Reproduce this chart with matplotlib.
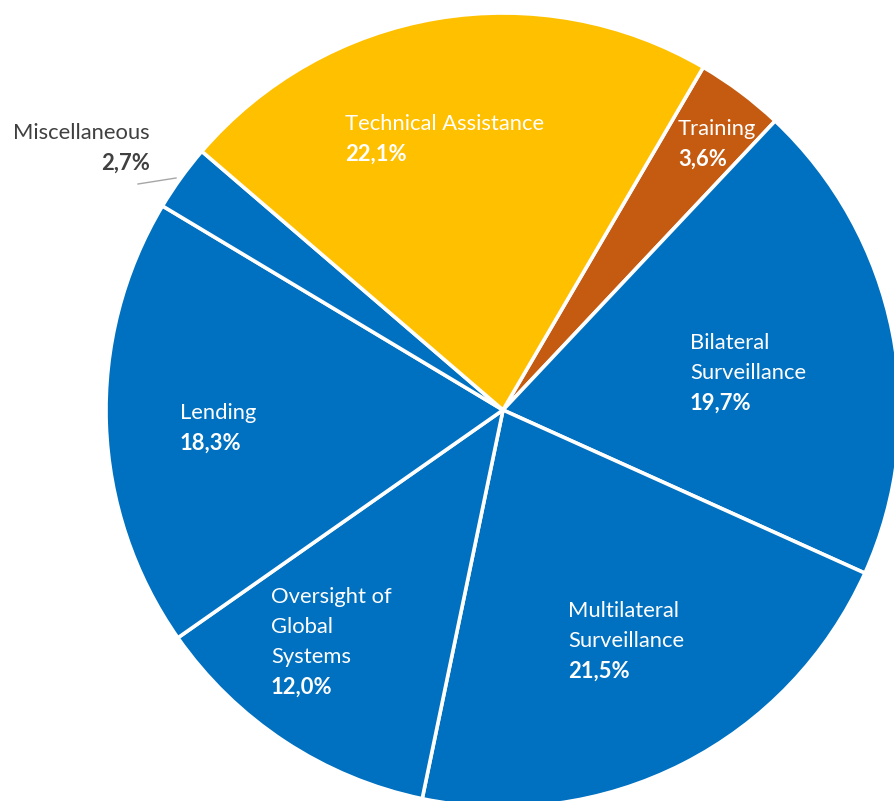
import matplotlib.pyplot as plt

# Share of spending by output area (%)
categories = ['Training', 'Bilateral\nSurveillance', 'Multilateral\nSurveillance',
              'Oversight of\nGlobal\nSystems', 'Lending', 'Miscellaneous',
              'Technical Assistance']
shares = [3.6, 19.7, 21.5, 12.0, 18.3, 2.7, 22.1]

colors = ['#C55A11', '#0070C0', '#0070C0', '#0070C0', '#0070C0', '#0070C0', '#FFC000']

# label anchor (left edge, top of first line) in pixel coords, origin top-left
label_pos = [(678, 119), (690, 333), (568, 601), (271, 587), (180, 403), (150, 123), (345, 114)]

W, H = 895, 801
fig = plt.figure(figsize=(W / 100, H / 100), dpi=100)
ax = fig.add_axes([0, 0, 1, 1])

cx, cy, r = 503, H - 410, 397
ax.pie(shares, colors=colors, startangle=59.7, counterclock=False,
       center=(cx, cy), radius=r,
       wedgeprops=dict(edgecolor='white', linewidth=2.6))

font = 'Lato'
fs = 15.8
line_h = 30

def pct(v):
    return f'{v:.1f}%'.replace('.', ',')

for name, val, (x, y) in zip(categories, shares, label_pos):
    lines = name.split('\n')
    outside = name == 'Miscellaneous'
    col = '#404040' if outside else 'white'
    ha = 'right' if outside else 'left'
    for i, ln in enumerate(lines):
        ax.text(x, H - (y + i * line_h), ln, color=col, fontsize=fs, family=font,
                ha=ha, va='top')
    ax.text(x, H - (y + len(lines) * line_h), pct(val), color=col, fontsize=fs,
            family=font, fontweight='bold', ha=ha, va='top')

# leader line for the small slice
ax.plot([138, 176], [H - 184, H - 178], color='#A6A6A6', linewidth=1)

ax.set_xlim(0, W)
ax.set_ylim(0, H)
ax.set_aspect('auto')
ax.axis('off')

fig.savefig('out.png', dpi=100, facecolor='white')
